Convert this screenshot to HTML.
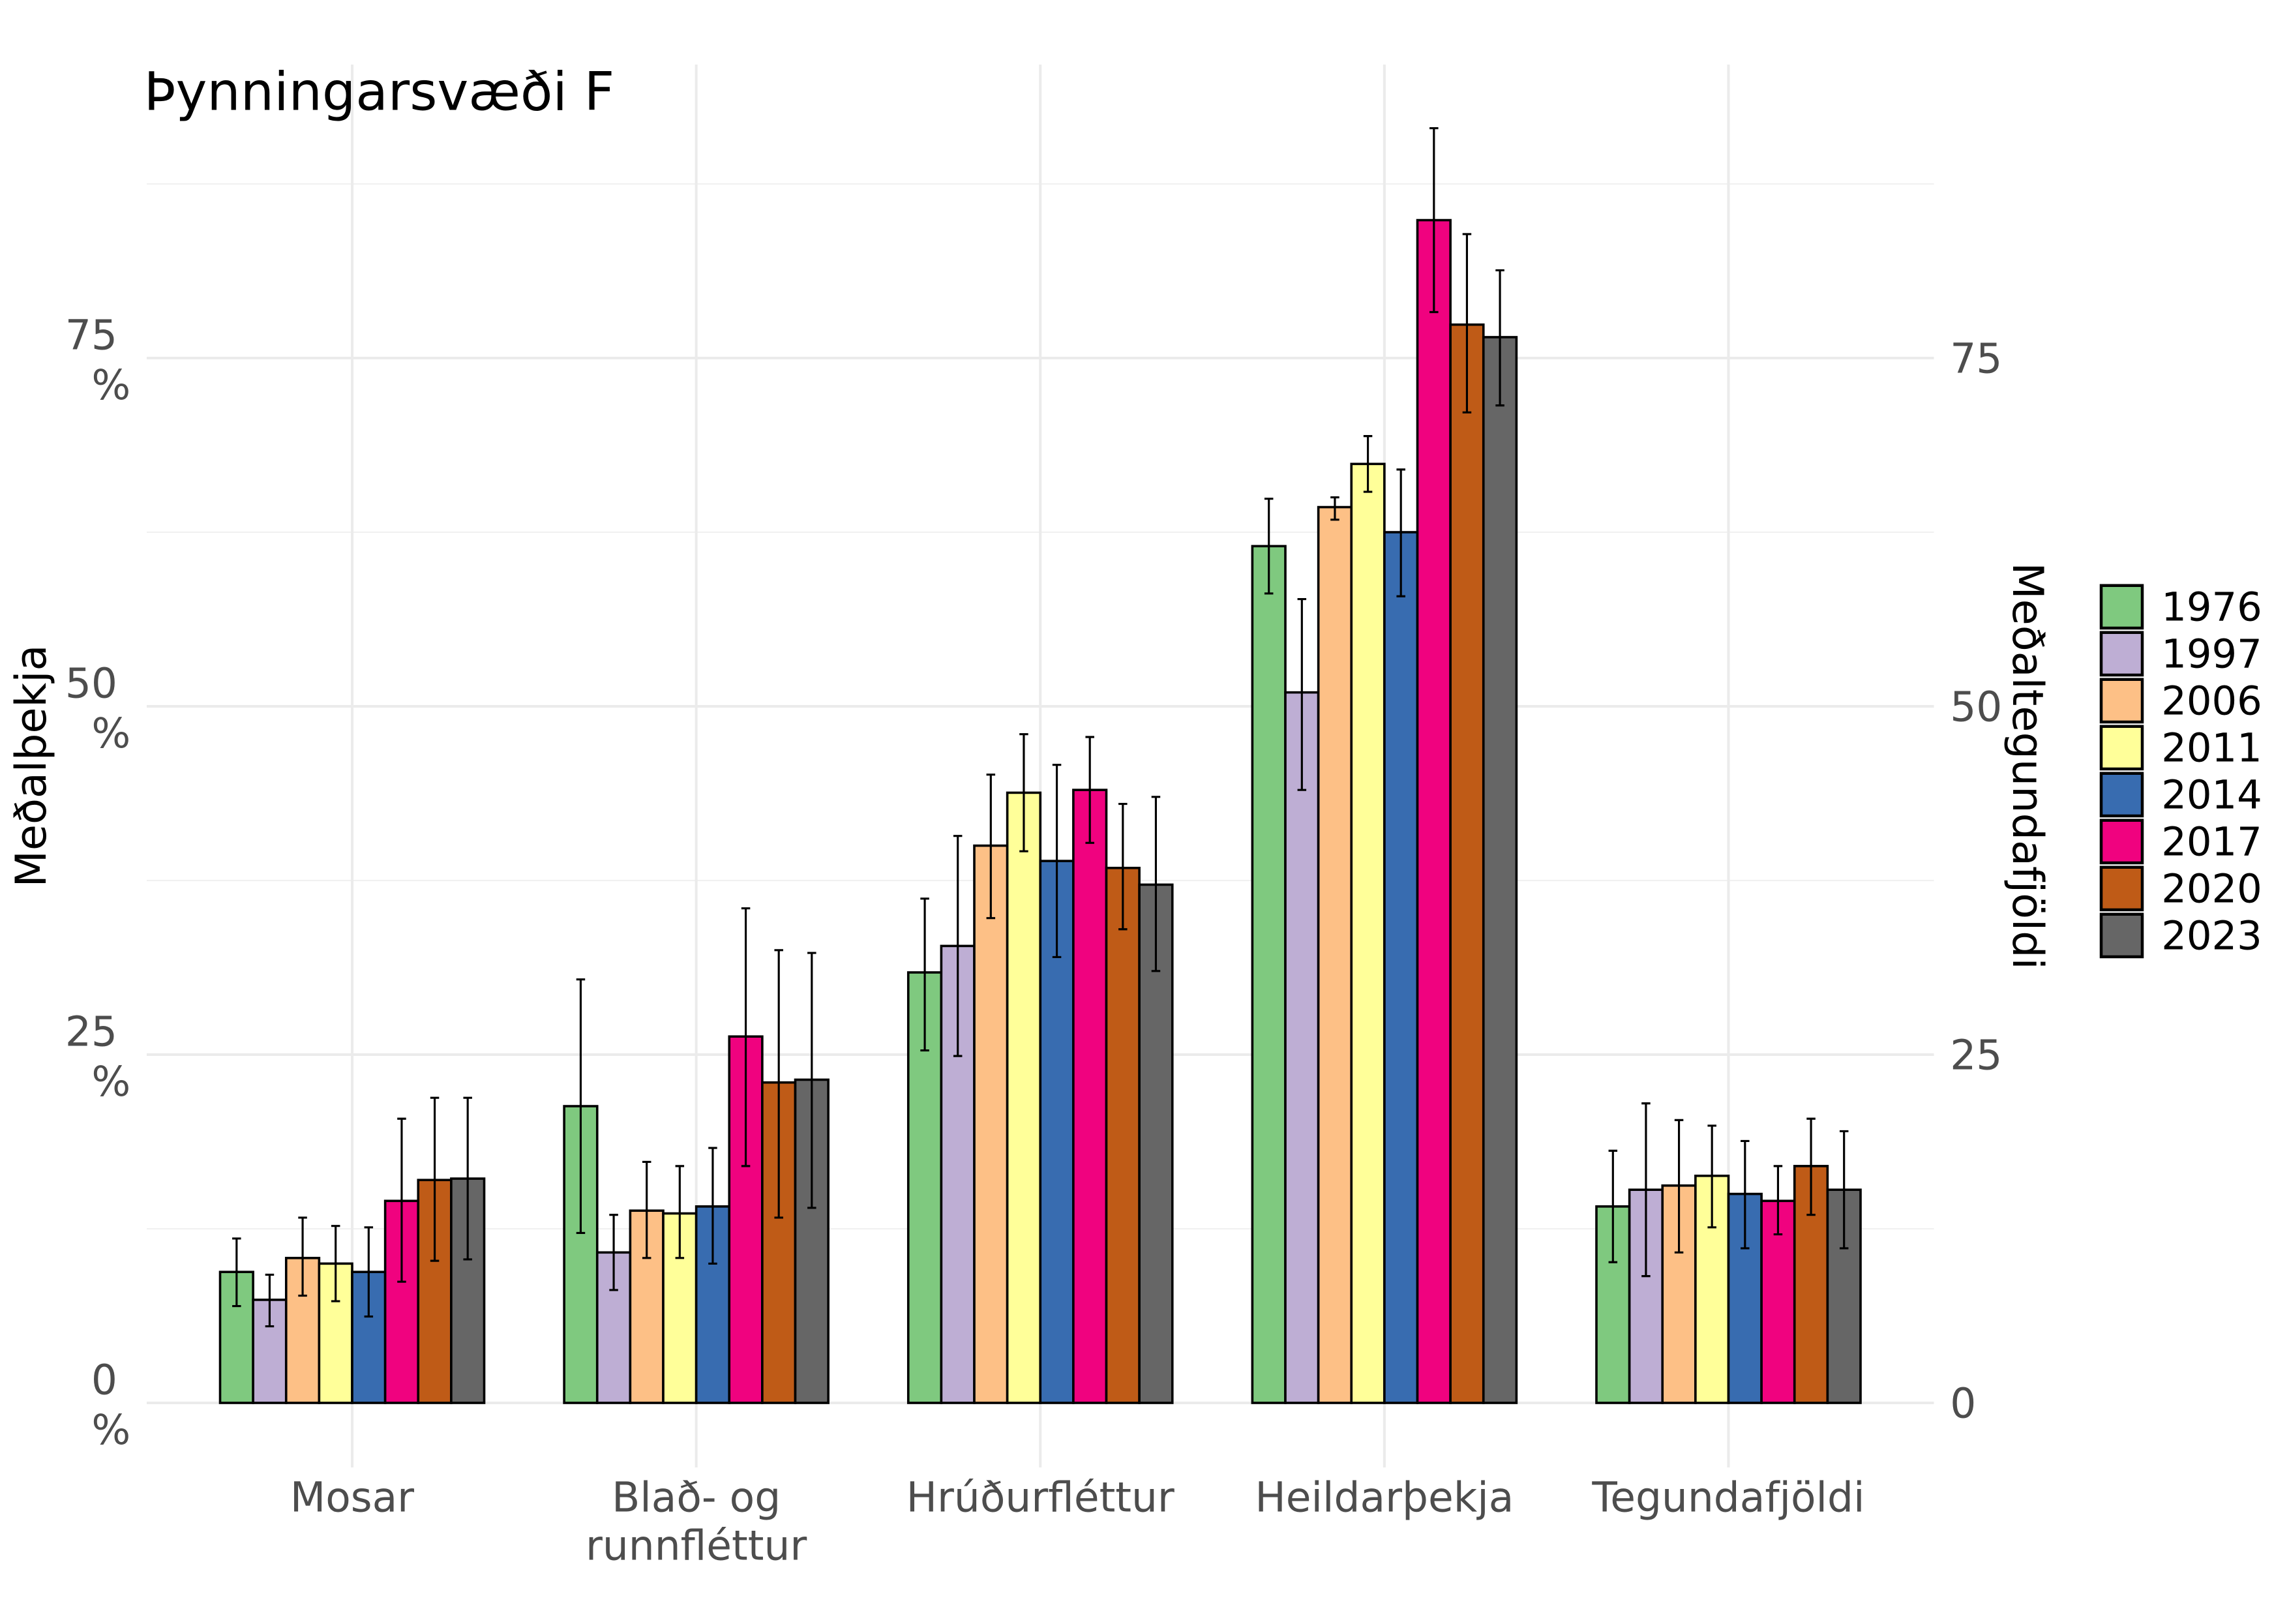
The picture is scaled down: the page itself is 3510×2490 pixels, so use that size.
<!DOCTYPE html>
<html><head><meta charset="utf-8">
<style>
html,body{margin:0;padding:0;background:#fff;}
svg{display:block;font-family:"DejaVu Sans","Liberation Sans",sans-serif;}
</style></head>
<body>
<svg id="chart" width="3510" height="2490" viewBox="0 0 1560 1106.67" xmlns="http://www.w3.org/2000/svg">
<rect x="0" y="0" width="1560" height="1107" fill="#fff"/>
<g id="grid"></g>
<g id="bars"></g>
<g id="axes"></g>
<text x="98" y="75" font-size="36" fill="#000">Þynningarsvæði F</text>
<text transform="translate(31,522) rotate(-90)" text-anchor="middle" font-size="29" fill="#000">Meðalþekja</text>
<text transform="translate(1372,522) rotate(90)" text-anchor="middle" font-size="29" fill="#000">Meðaltegundafjöldi</text>
<g id="legend"></g>
</svg>
<script>
const categories = ["Mosar", "Blað- og\nrunnfléttur", "Hrúðurfléttur", "Heildarþekja", "Tegundafjöldi"];
const years = ["1976","1997","2006","2011","2014","2017","2020","2023"];
const colors = ["#7FC97F","#BEAED4","#FDC086","#FFFF99","#386CB0","#F0027F","#BF5B17","#666666"];
const means = [
  [9.4, 7.4, 10.4, 10.0, 9.4, 14.5, 16.0, 16.1],
  [21.3, 10.8, 13.8, 13.6, 14.1, 26.3, 23.0, 23.2],
  [30.9, 32.8, 40.0, 43.8, 38.9, 44.0, 38.4, 37.2],
  [61.5, 51.0, 64.3, 67.4, 62.5, 84.9, 77.4, 76.5],
  [14.1, 15.3, 15.6, 16.3, 15.0, 14.5, 17.0, 15.3]
];
const upper = [
  [11.8, 9.2, 13.3, 12.7, 12.6, 20.4, 21.9, 21.9],
  [30.4, 13.5, 17.3, 17.0, 18.3, 35.5, 32.5, 32.3],
  [36.2, 40.7, 45.1, 48.0, 45.8, 47.8, 43.0, 43.5],
  [64.9, 57.7, 65.0, 69.4, 67.0, 91.5, 83.9, 81.3],
  [18.1, 21.5, 20.3, 19.9, 18.8, 17.0, 20.4, 19.5]
];
const lower = [
  [6.95, 5.5, 7.7, 7.3, 6.2, 8.7, 10.2, 10.3],
  [12.2, 8.1, 10.4, 10.4, 10.0, 17.0, 13.3, 14.0],
  [25.3, 24.9, 34.8, 39.6, 32.0, 40.2, 34.0, 31.0],
  [58.1, 44.0, 63.4, 65.4, 57.9, 78.3, 71.1, 71.6],
  [10.1, 9.1, 10.8, 12.6, 11.1, 12.1, 13.5, 11.1]
];
const yTicks = [0, 25, 50, 75];
const yMinor = [12.5, 37.5, 62.5, 87.5];

const NS = "http://www.w3.org/2000/svg";
const panelL = 100, panelR = 1318;
function y(v){ return 956 - v * (712/75); }
function xCenter(i){ return 240 + i * 234.5; }
const barW = 22.5;
function mk(tag, attrs, parent){ const e = document.createElementNS(NS, tag); for (const k in attrs) e.setAttribute(k, attrs[k]); parent.appendChild(e); return e; }

const grid = document.getElementById("grid");
yMinor.forEach(v => {
  const l = mk("line", {x1:panelL, x2:panelR, y1:y(v), y2:y(v), stroke:"#f1f1f1", "stroke-width":1}, grid);
  
  
});
yTicks.forEach(v => {
  const l = mk("line", {x1:panelL, x2:panelR, y1:y(v), y2:y(v), stroke:"#ebebeb", "stroke-width":1.8}, grid);
  
  
});
categories.forEach((c, i) => {
  const l = mk("line", {x1:xCenter(i), x2:xCenter(i), y1:44, y2:1000, stroke:"#ebebeb", "stroke-width":1.8}, grid);
  
  
});

const bars = document.getElementById("bars");
categories.forEach((c, i) => {
  const g0 = xCenter(i) - barW * years.length / 2;
  years.forEach((yr, j) => {
    const x = g0 + j * barW;
    const r = mk("rect", {x:x, y:y(means[i][j]), width:barW, height:y(0)-y(means[i][j]), fill:colors[j], stroke:"#000", "stroke-width":1.6}, bars);
    
    
    const cx = x + barW/2;
    const eb = mk("path", {d:`M${cx-3},${y(upper[i][j])}H${cx+3}M${cx},${y(upper[i][j])}V${y(lower[i][j])}M${cx-3},${y(lower[i][j])}H${cx+3}`, stroke:"#000", "stroke-width":1.4, fill:"none"}, bars);
    
    
  });
});

const axes = document.getElementById("axes");
yTicks.forEach(v => {
  const t = mk("text", {x:80, y:y(v)-6, "text-anchor":"end", "font-size":28, fill:"#4d4d4d"}, axes);
  t.textContent = String(v);
  
  
  const p = mk("text", {x:89, y:y(v)+28, "text-anchor":"end", "font-size":28, fill:"#4d4d4d"}, axes);
  p.textContent = "%";
  
  
  const r = mk("text", {x:1329, y:y(v)+10, "font-size":28, fill:"#4d4d4d"}, axes);
  r.textContent = String(v);
  
  
});
categories.forEach((c, i) => {
  c.split("\n").forEach((line, k) => {
    const t = mk("text", {x:xCenter(i), y:1030 + k*33, "text-anchor":"middle", "font-size":28, fill:"#4d4d4d"}, axes);
    t.textContent = line;
    
    
  });
});

const legend = document.getElementById("legend");
years.forEach((yr, j) => {
  const yy = 399 + j * 32;
  const r = mk("rect", {x:1432, y:yy, width:28, height:29, fill:colors[j], stroke:"#000", "stroke-width":2}, legend);
  
  
  const t = mk("text", {x:1473, y:yy+24, "font-size":27, fill:"#000"}, legend);
  t.textContent = yr;
  
  
});
</script>
</body></html>
